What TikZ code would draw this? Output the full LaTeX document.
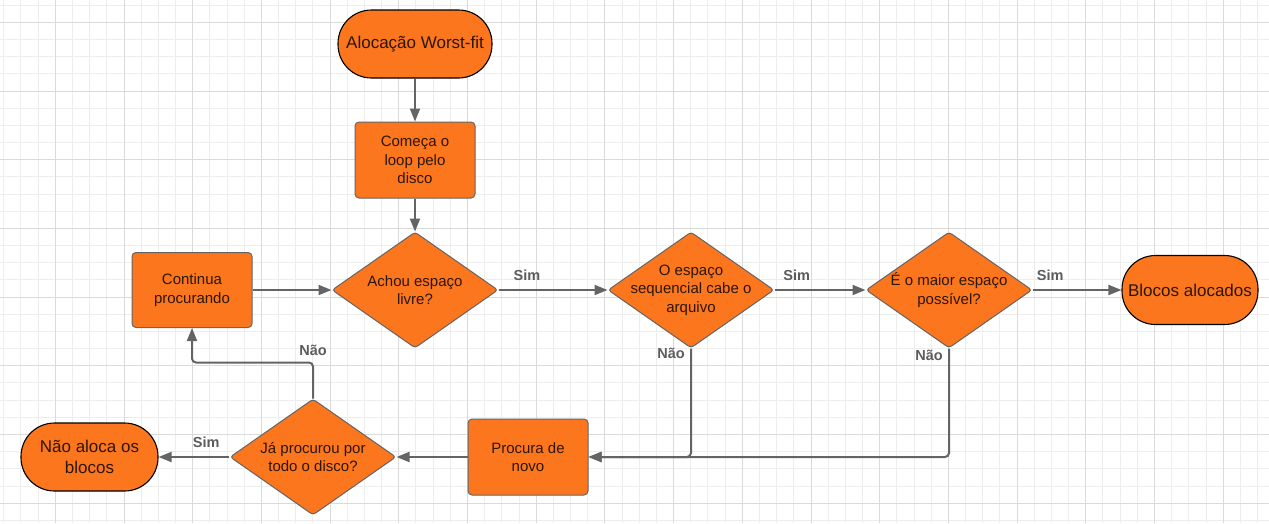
\documentclass[tikz,border=0pt]{standalone}
\usepackage{fontspec}
\setmainfont{Liberation Sans}
\usetikzlibrary{shapes.geometric,arrows.meta}
\definecolor{boxorange}{HTML}{FC761E}
\definecolor{linegray}{HTML}{646464}
\definecolor{labelgray}{HTML}{5C5C5C}
\definecolor{textdark}{HTML}{2B1606}
\definecolor{gridminor}{HTML}{EDEDED}
\definecolor{gridmajor}{HTML}{DADADA}

\begin{document}
\begin{tikzpicture}[x=1pt, y=-1pt,
  term/.style={draw=black, line width=1.1, fill=boxorange, rounded corners=33.5, minimum width=137, minimum height=68, align=center, text=textdark, font=\fontsize{17}{21}\selectfont},
  proc/.style={draw=linegray, line width=1, fill=boxorange, rounded corners=4, minimum width=120, minimum height=76, align=center, text=textdark, font=\fontsize{15}{18.5}\selectfont},
  decision/.style={diamond, draw=linegray, line width=1, fill=boxorange, rounded corners=3, minimum width=166, minimum height=116, inner sep=0pt},
  dtext/.style={align=center, text=textdark, font=\fontsize{15}{18.5}\selectfont},
  flow/.style={draw=linegray, line width=2, -{Triangle[length=13,width=10]}},
  lbl/.style={text=labelgray, font=\fontsize{14.5}{17}\selectfont\bfseries}]
\useasboundingbox (0,0) rectangle (1269,523);
\fill[white] (0,0) rectangle (1269,523);
\begin{scope}
\clip (0,0) rectangle (1269,523);
\foreach \i in {0,...,73} \draw[gridminor, line width=1] ({3.775+17.175*\i},0) -- ++(0,523);
\foreach \i in {0,...,30} \draw[gridminor, line width=1] (0,{5.125+17.175*\i}) -- ++(1269,0);
\foreach \i in {0,...,17} \draw[gridmajor, line width=1] ({55.3+68.7*\i},0) -- ++(0,523);
\foreach \i in {0,...,7} \draw[gridmajor, line width=1] (0,{22.3+68.7*\i}) -- ++(1269,0);
\end{scope}

\node[term, minimum width=154] (inicio) at (415,44) {Alocação Worst-fit};
\node[proc] (loop) at (415,160) {Começa o\\loop pelo\\disco};
\node[decision, label={[dtext]center:{Achou espaço\\livre?}}] (achou) at (415,290) {};
\node[decision, label={[dtext]center:{O espaço\\sequencial cabe o\\arquivo}}] (cabe) at (691,290) {};
\node[decision, label={[dtext]center:{É o maior espaço\\possível?}}] (maior) at (949,290) {};
\node[term, minimum width=136, minimum height=69] (alocados) at (1190,290) {Blocos alocados};
\node[proc, minimum height=75] (continua) at (192,290) {Continua\\procurando};
\node[proc] (novo) at (528,457) {Procura de\\novo};
\node[decision, label={[dtext]center:{Já procurou por\\todo o disco?}}] (todo) at (313,457) {};
\node[term] (naoaloca) at (89.5,457) {Não aloca os\\blocos};

\draw[flow] (inicio) -- (loop);
\draw[flow] (loop) -- (achou);
\draw[flow] (achou) -- node[lbl, pos=0.1, anchor=south west, yshift=5]{Sim} (cabe);
\draw[flow] (cabe) -- node[lbl, pos=0.05, anchor=south west, yshift=5]{Sim} (maior);
\draw[flow] (maior) -- node[lbl, pos=0, anchor=south west, yshift=5]{Sim} (alocados);
\draw[flow, rounded corners=4] (cabe.south) node[lbl, anchor=north east, xshift=-2, yshift=5]{Não} |- (novo.east);
\draw[flow, rounded corners=4] (maior.south) node[lbl, anchor=north east, xshift=-2, yshift=3]{Não} |- (novo.east);
\draw[flow] (novo) -- (todo);
\draw[flow] (todo) -- node[lbl, pos=0.08, anchor=south east, yshift=5]{Sim} (naoaloca);
\draw[flow, rounded corners=4] (todo.north) -- ++(0,-36) node[lbl, above, yshift=3]{Não} -| (continua.south);
\draw[flow] (continua) -- (achou);
\end{tikzpicture}
\end{document}
